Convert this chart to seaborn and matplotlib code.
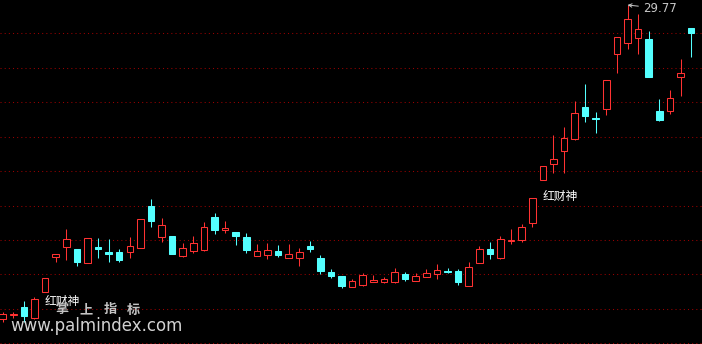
import numpy as np
import pandas as pd
import seaborn as sns
import matplotlib
matplotlib.use("Agg")
import matplotlib.pyplot as plt

# ---------------- data ----------------
opens = [20.35, 20.46, 20.72, 20.37, 21.17, 22.20, 22.50, 22.45, 22.04, 22.52,
         22.37, 22.35, 22.37, 22.47, 23.74, 22.82, 22.84, 22.25, 22.40, 22.43,
         23.41, 23.01, 22.96, 22.81, 22.25, 22.28, 22.38, 22.19, 22.19, 22.53,
         22.18, 21.76, 21.64, 21.30, 21.37, 21.47, 21.47, 21.47, 21.70, 21.50,
         21.62, 21.69, 21.80, 21.79, 21.35, 22.04, 22.45, 22.19, 22.68, 22.73,
         23.24, 24.53, 25.01, 25.40, 25.76, 26.71, 26.38, 26.66, 28.29, 28.64,
         28.79, 28.75, 26.59, 26.60, 27.62, 29.08]
closes = [20.51, 20.49, 20.45, 20.95, 21.57, 22.29, 22.75, 22.05, 22.77, 22.46,
          22.30, 22.13, 22.54, 23.35, 23.30, 23.17, 22.30, 22.48, 22.62, 23.11,
          23.03, 23.08, 22.85, 22.43, 22.38, 22.41, 22.28, 22.29, 22.35, 22.45,
          21.80, 21.64, 21.35, 21.49, 21.67, 21.52, 21.55, 21.76, 21.56, 21.64,
          21.72, 21.81, 21.76, 21.46, 21.91, 22.45, 22.31, 22.75, 22.71, 23.11,
          23.97, 24.94, 25.14, 25.78, 26.52, 26.45, 26.34, 27.51, 28.80, 29.34,
          29.04, 27.62, 26.32, 26.97, 27.73, 28.94]
highs = [20.57, 20.55, 20.89, 21.02, 21.58, 22.30, 23.05, 22.45, 22.78, 22.77,
         22.75, 22.45, 22.81, 23.35, 23.95, 23.39, 22.84, 22.62, 22.84, 23.27,
         23.53, 23.29, 22.96, 22.92, 22.60, 22.62, 22.57, 22.60, 22.48, 22.69,
         22.27, 21.85, 21.64, 21.54, 21.72, 21.67, 21.60, 21.88, 21.76, 21.72,
         21.85, 22.00, 21.89, 21.86, 22.05, 22.54, 22.66, 22.84, 23.05, 23.20,
         23.97, 24.94, 25.87, 26.11, 26.89, 27.40, 26.56, 27.51, 28.80, 29.77,
         29.50, 28.99, 26.95, 27.22, 28.15, 29.08]
lows = [20.27, 20.39, 20.27, 20.35, 21.16, 22.07, 22.12, 21.95, 22.03, 22.17,
        22.05, 22.05, 22.19, 22.47, 23.12, 22.67, 22.30, 22.22, 22.34, 22.39,
        22.90, 22.94, 22.57, 22.34, 22.25, 22.16, 22.21, 22.19, 21.95, 22.37,
        21.71, 21.59, 21.29, 21.30, 21.34, 21.47, 21.42, 21.44, 21.50, 21.50,
        21.62, 21.55, 21.72, 21.38, 21.35, 22.04, 22.16, 22.16, 22.61, 22.67,
        23.12, 24.53, 24.74, 24.74, 25.72, 26.27, 25.94, 26.47, 27.74, 28.46,
        28.31, 27.62, 26.30, 26.50, 27.05, 28.20]
grid_levels = [19.63, 20.66, 21.69, 22.71, 23.73, 24.79, 25.81, 26.85, 27.88, 28.92]
high_label = "29.77"
signal_text = "红财神"
brand_chars = ["掌", "上", "指", "标"]
watermark = "www.palmindex.com"

df = pd.DataFrame({"open": opens, "high": highs, "low": lows, "close": closes})
df["idx"] = np.arange(len(df))
df["up"] = df["close"] >= df["open"]

# ---------------- style ----------------
sns.set_theme(style="dark", rc={"axes.facecolor": "black",
                                "figure.facecolor": "black",
                                "savefig.facecolor": "black"})
plt.rcParams["font.family"] = ["Noto Sans CJK SC", "DejaVu Sans"]

RED = "#ff3232"
CYAN = "#54ffff"
GRID = "#9a0000"

fig = plt.figure(figsize=(7.02, 3.44), dpi=100)
ax = fig.add_axes([0, 0, 1, 1])
ax.set_facecolor("black")

for lv in grid_levels:
    ax.axhline(lv, color=GRID, lw=0.75, ls=(0, (1, 3)), zorder=0)

w = 0.62
lw = 0.75
for _, r in df.iterrows():
    top = max(r["open"], r["close"])
    bot = min(r["open"], r["close"])
    col = RED if r["up"] else CYAN
    # wicks (outside the body)
    if r["high"] > top:
        ax.vlines(r["idx"], top, r["high"], color=col, lw=lw, zorder=2)
    if r["low"] < bot:
        ax.vlines(r["idx"], r["low"], bot, color=col, lw=lw, zorder=2)
    h = max(top - bot, 0.005)
    if r["up"]:
        ax.bar(r["idx"], h, bottom=bot, width=w, facecolor="black",
               edgecolor=col, linewidth=lw, zorder=3)
    else:
        ax.bar(r["idx"], h, bottom=bot, width=w, facecolor=col,
               edgecolor=col, linewidth=lw, zorder=3)

ax.set_xlim(-0.255, 66.03)
ax.set_ylim(19.60, 29.92)
ax.set_xticks([])
ax.set_yticks([])
for s in ax.spines.values():
    s.set_visible(False)
ax.grid(False)

# high annotation
imax = int(np.argmax(highs))
ax.annotate(high_label, xy=(imax, highs[imax]),
            xytext=(643 / 702, 1 - 8.5 / 344), textcoords="axes fraction",
            ha="left", va="center", fontsize=8.5, color="#c8c8c8",
            family=["DejaVu Sans"],
            arrowprops=dict(arrowstyle="->", color="#c8c8c8", lw=0.7,
                            shrinkA=1, shrinkB=0, mutation_scale=6))

# signal texts
ax.text(62.5 / 702, 1 - 301.5 / 344, signal_text, transform=ax.transAxes,
        ha="center", va="center", fontsize=8.5, color="white", zorder=5)
ax.text(560.5 / 702, 1 - 196 / 344, signal_text, transform=ax.transAxes,
        ha="center", va="center", fontsize=8.5, color="white", zorder=5)

# brand text
for cx, ch in zip([61.5, 86, 110, 133.5], brand_chars):
    ax.text(cx / 702, 1 - 309.5 / 344, ch, transform=ax.transAxes,
            ha="center", va="center", fontsize=9.5, fontweight="bold",
            color="#c4c4c4", zorder=5)

ax.text(10 / 702, 1 - 326 / 344, watermark, transform=ax.transAxes,
        ha="left", va="center", fontsize=12, color="#d2d2d2",
        family=["DejaVu Sans"], zorder=6)

fig.savefig("out.png", dpi=100, facecolor="black")
